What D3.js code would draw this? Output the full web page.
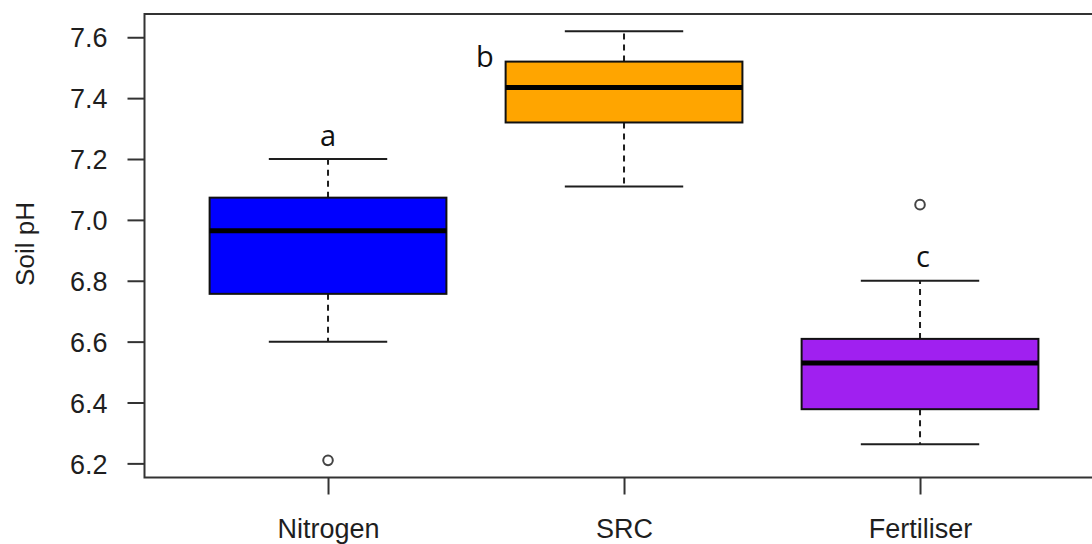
<!DOCTYPE html>
<html>
<head>
<meta charset="utf-8">
<script src="https://cdn.jsdelivr.net/npm/d3@7"></script>
<style>
  html, body { margin: 0; padding: 0; background: #ffffff; }
  svg { display: block; }
</style>
</head>
<body>
<svg id="chart" width="1092" height="544"></svg>
<script>
// ---- data ----
const categories = ["Nitrogen", "SRC", "Fertiliser"];
const lowerWhisker = [6.60, 7.11, 6.263];
const q1 = [6.757, 7.32, 6.378];
const median = [6.964, 7.435, 6.53];
const q3 = [7.073, 7.52, 6.609];
const upperWhisker = [7.20, 7.62, 6.80];
const outliers = [[6.21], [], [7.05]];
const boxColors = ["#0000FF", "#FFA500", "#A020F0"];
const groupLetters = ["a", "b", "c"];
const yTicks = [6.2, 6.4, 6.6, 6.8, 7.0, 7.2, 7.4, 7.6];
const yLabel = "Soil pH";

// ---- layout ----
const svg = d3.select("#chart");
const plotLeft = 144.5, plotTop = 14, plotBottom = 477.5;
const pxPerUnit = 296;

const allVals = [].concat(lowerWhisker, upperWhisker, ...outliers);
const yMin = d3.min(allVals), yMax = d3.max(allVals);
const pad = (yMax - yMin) * 0.04;
const y = d3.scaleLinear().domain([yMin - pad, yMax + pad]).range([plotBottom, plotTop]);

const xDomain = [0.38, categories.length + 0.62];
const x = d3.scaleLinear().domain(xDomain)
  .range([plotLeft, plotLeft + (xDomain[1] - xDomain[0]) * pxPerUnit]);

const ink = "#1e1e1e";
const fontFam = "'Liberation Sans', Arial, sans-serif";

const data = categories.map((c, i) => ({
  c, i, pos: i + 1,
  lo: lowerWhisker[i], q1: q1[i], med: median[i], q3: q3[i], hi: upperWhisker[i],
  out: outliers[i], color: boxColors[i], letter: groupLetters[i]
}));

const g = svg.append("g");

// whiskers (dashed)
g.selectAll(".whU").data(data).enter().append("line")
  .attr("x1", d => x(d.pos)).attr("x2", d => x(d.pos))
  .attr("y1", d => y(d.q3)).attr("y2", d => y(d.hi))
  .attr("stroke", ink).attr("stroke-width", 2).attr("stroke-dasharray", "6,5");
g.selectAll(".whL").data(data).enter().append("line")
  .attr("x1", d => x(d.pos)).attr("x2", d => x(d.pos))
  .attr("y1", d => y(d.q1)).attr("y2", d => y(d.lo))
  .attr("stroke", ink).attr("stroke-width", 2).attr("stroke-dasharray", "6,5");

// caps
["hi", "lo"].forEach(k => {
  g.selectAll(".cap" + k).data(data).enter().append("line")
    .attr("x1", d => x(d.pos - 0.2)).attr("x2", d => x(d.pos + 0.2))
    .attr("y1", d => y(d[k])).attr("y2", d => y(d[k]))
    .attr("stroke", ink).attr("stroke-width", 2);
});

// boxes
g.selectAll(".box").data(data).enter().append("rect")
  .attr("x", d => x(d.pos - 0.4))
  .attr("width", d => x(d.pos + 0.4) - x(d.pos - 0.4))
  .attr("y", d => y(d.q3))
  .attr("height", d => y(d.q1) - y(d.q3))
  .attr("fill", d => d.color)
  .attr("stroke", "#111").attr("stroke-width", 2);

// medians
g.selectAll(".med").data(data).enter().append("line")
  .attr("x1", d => x(d.pos - 0.4)).attr("x2", d => x(d.pos + 0.4))
  .attr("y1", d => y(d.med)).attr("y2", d => y(d.med))
  .attr("stroke", "#000").attr("stroke-width", 5);

// outliers
data.forEach(d => {
  g.selectAll(null).data(d.out).enter().append("circle")
    .attr("cx", x(d.pos)).attr("cy", v => y(v)).attr("r", 4.8)
    .attr("fill", "none").attr("stroke", "#444").attr("stroke-width", 2);
});

// group letters (a, c above the upper whisker; b left of the box top)
const letterAnchor = d => d.i === 1 ? y(d.q3) + 5 : y(d.hi) - 13.5;
const letterDx = [0, -0.47, 0.01];
g.selectAll(".letter").data(data).enter().append("text")
  .attr("x", d => x(d.pos + letterDx[d.i]))
  .attr("y", letterAnchor)
  .attr("text-anchor", "middle")
  .attr("font-family", "'Open Sans', 'Noto Sans', sans-serif")
  .attr("font-size", 29)
  .attr("fill", "#111")
  .text(d => d.letter);

// frame
svg.append("rect")
  .attr("x", plotLeft).attr("y", plotTop)
  .attr("width", x.range()[1] - plotLeft).attr("height", plotBottom - plotTop)
  .attr("fill", "none").attr("stroke", "#333").attr("stroke-width", 2);

// y axis
const yAxis = d3.axisLeft(y).tickValues(yTicks).tickSize(17).tickPadding(20)
  .tickFormat(d3.format(".1f"));
const ya = svg.append("g").attr("transform", `translate(${plotLeft},0)`).call(yAxis);
ya.select(".domain").remove();
ya.selectAll(".tick line").attr("stroke", "#333").attr("stroke-width", 2);
ya.selectAll(".tick text").attr("font-family", fontFam).attr("font-size", 27)
  .attr("fill", ink).attr("dy", "0.36em");

// x axis
const xAxis = d3.axisBottom(x).tickValues(data.map(d => d.pos))
  .tickFormat((d, i) => categories[i]).tickSize(17).tickPadding(24);
const xa = svg.append("g").attr("transform", `translate(0,${plotBottom})`).call(xAxis);
xa.select(".domain").remove();
xa.selectAll(".tick line").attr("stroke", "#333").attr("stroke-width", 2);
xa.selectAll(".tick text").attr("font-family", fontFam).attr("font-size", 27)
  .attr("fill", ink).attr("dy", "0.71em");

// y label
svg.append("text")
  .attr("transform", "translate(34,244) rotate(-90)")
  .attr("text-anchor", "middle")
  .attr("font-family", fontFam).attr("font-size", 26)
  .attr("fill", ink)
  .text(yLabel);
</script>
</body>
</html>
